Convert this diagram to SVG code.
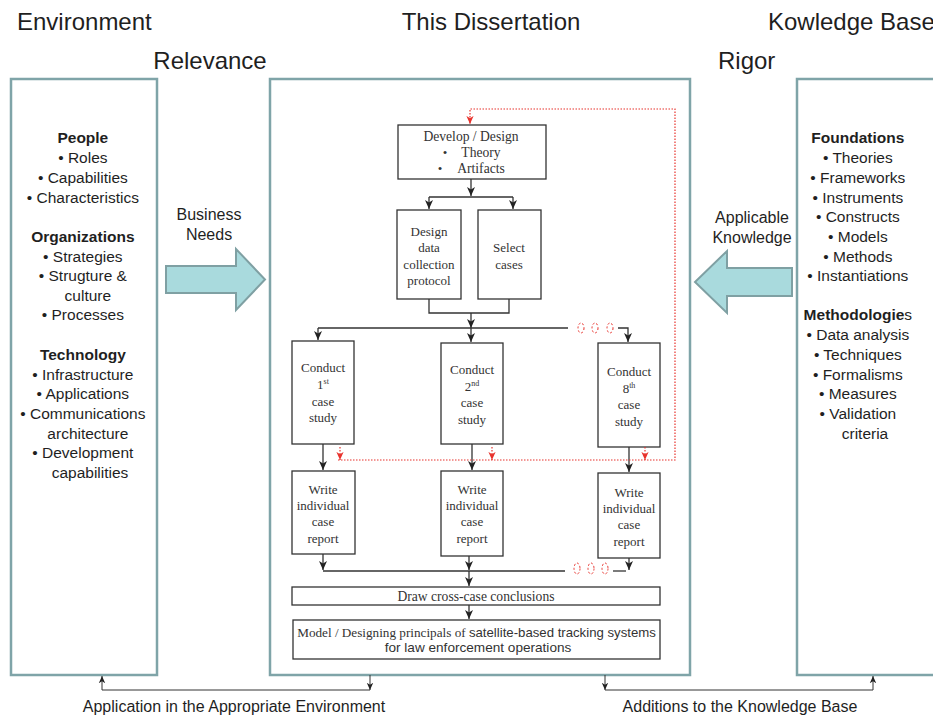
<svg xmlns="http://www.w3.org/2000/svg" width="933" height="717" viewBox="0 0 933 717">
  <style>
    .hdr { font-family: "Liberation Sans", Arial, sans-serif; font-size: 24px; fill: #1f1f1f; }
    .side { font-family: "Liberation Sans", Arial, sans-serif; font-size: 15.5px; fill: #1f1f1f; text-anchor: middle; }
    .side .b, .b { font-weight: bold; }
    .lbl { font-family: "Liberation Sans", Arial, sans-serif; font-size: 16px; fill: #1f1f1f; text-anchor: middle; }
    .foot { font-family: "Liberation Sans", Arial, sans-serif; font-size: 16px; fill: #1f1f1f; text-anchor: middle; }
    .panel { fill: #ffffff; stroke: #7fa4a8; stroke-width: 2.5; }
    .bigarrow { fill: #a9dadd; stroke: #7fa0a3; stroke-width: 2; }
    .box { fill: #ffffff; stroke: #333333; stroke-width: 1.3; }
    .t { font-family: "Liberation Serif", "Times New Roman", serif; font-size: 13px; fill: #333333; text-anchor: middle; }
    .m { font-size: 13.6px; }
    .mm { font-size: 13.2px; }
    .sup { font-size: 8px; }
    .a { font-family: "Liberation Sans", Arial, sans-serif; }
    .wire { fill: none; stroke: #333333; stroke-width: 1.3; }
    .thin { fill: none; stroke: #333333; stroke-width: 1; }
    .red { fill: none; stroke: #e8322c; stroke-width: 1.2; stroke-dasharray: 1.5 1.5; }
    .dots { fill: none; stroke: #e8322c; stroke-width: 1; stroke-dasharray: 2 2; }
  </style>
  <defs>
    <marker id="ah" markerUnits="userSpaceOnUse" markerWidth="10" markerHeight="10" viewBox="0 0 10 10" refX="9" refY="5" orient="auto">
      <path d="M0,1 L9,5 L0,9 L2.5,5 z" fill="#222222"/>
    </marker>
    <marker id="ahr" markerUnits="userSpaceOnUse" markerWidth="9" markerHeight="9" viewBox="0 0 10 10" refX="9" refY="5" orient="auto">
      <path d="M0,1 L9,5 L0,9 L2.5,5 z" fill="#e8322c"/>
    </marker>
    <marker id="ahs" markerUnits="userSpaceOnUse" markerWidth="8" markerHeight="8" viewBox="0 0 10 10" refX="9" refY="5" orient="auto">
      <path d="M0,1 L9,5 L0,9 L2.5,5 z" fill="#222222"/>
    </marker>
  </defs>

  <rect width="933" height="717" fill="#ffffff"/>

  <!-- column headings -->
  <g id="headings">
    <text class="hdr" x="17" y="30">Environment</text>
    <text class="hdr" x="491" y="30" text-anchor="middle">This Dissertation</text>
    <text class="hdr" x="768" y="30">Kowledge Base</text>
    <text class="hdr" x="210" y="69" text-anchor="middle">Relevance</text>
    <text class="hdr" x="718" y="69">Rigor</text>
  </g>

  <!-- environment panel -->
  <g id="environment">
    <rect class="panel" x="11" y="79" width="146" height="596"/>
    <text class="side">
      <tspan class="b" x="85" y="143">People</tspan>
      <tspan x="85" y="163">• Roles</tspan>
      <tspan x="85" y="183">• Capabilities</tspan>
      <tspan x="85" y="203">• Characteristics</tspan>
      <tspan class="b" x="85" y="242">Organizations</tspan>
      <tspan x="85" y="262">• Strategies</tspan>
      <tspan x="85" y="281">• Strugture &amp;</tspan>
      <tspan x="90" y="301">culture</tspan>
      <tspan x="85" y="320">• Processes</tspan>
      <tspan class="b" x="85" y="360">Technology</tspan>
      <tspan x="85" y="380">• Infrastructure</tspan>
      <tspan x="85" y="399">• Applications</tspan>
      <tspan x="85" y="419">• Communications</tspan>
      <tspan x="90" y="439">architecture</tspan>
      <tspan x="85" y="458">• Development</tspan>
      <tspan x="90" y="478">capabilities</tspan>
    </text>
  </g>

  <!-- knowledge base panel -->
  <g id="knowledge-base">
    <rect class="panel" x="797" y="79" width="150" height="596"/>
    <text class="side">
      <tspan class="b" x="860" y="143">Foundations</tspan>
      <tspan x="860" y="163">• Theories</tspan>
      <tspan x="860" y="183">• Frameworks</tspan>
      <tspan x="860" y="203">• Instruments</tspan>
      <tspan x="860" y="222">• Constructs</tspan>
      <tspan x="860" y="242">• Models</tspan>
      <tspan x="860" y="262">• Methods</tspan>
      <tspan x="860" y="281">• Instantiations</tspan>
      <tspan x="860" y="320"><tspan class="b">Methodologie</tspan>s</tspan>
      <tspan x="860" y="340">• Data analysis</tspan>
      <tspan x="860" y="360">• Techniques</tspan>
      <tspan x="860" y="380">• Formalisms</tspan>
      <tspan x="860" y="399">• Measures</tspan>
      <tspan x="860" y="419">• Validation</tspan>
      <tspan x="865" y="439">criteria</tspan>
    </text>
  </g>

  <!-- dissertation panel -->
  <g id="dissertation">
    <rect class="panel" x="270" y="79" width="420" height="596"/>
  </g>

  <!-- business needs flow -->
  <g id="business-needs">
    <path class="bigarrow" d="M166,266 L236,266 L236,249 L265,279.5 L236,310 L236,293 L166,293 z"/>
    <text class="lbl"><tspan x="209" y="220">Business</tspan><tspan x="209" y="240">Needs</tspan></text>
  </g>

  <!-- applicable knowledge flow -->
  <g id="applicable-knowledge">
    <path class="bigarrow" d="M792,268 L727,268 L727,251 L695,282 L727,313 L727,296 L792,296 z"/>
    <text class="lbl"><tspan x="752" y="223">Applicable</tspan><tspan x="752" y="243">Knowledge</tspan></text>
  </g>

  <!-- process steps -->
  <g id="develop-design">
    <rect class="box" x="398" y="125" width="148" height="54"/>
    <text class="t m" x="471" y="141">Develop / Design</text>
    <text class="t" x="445" y="157">•</text>
    <text class="t m" x="481" y="157">Theory</text>
    <text class="t" x="440" y="173">•</text>
    <text class="t m" x="481" y="173">Artifacts</text>
  </g>

  <g id="design-protocol">
    <rect class="box" x="397" y="210" width="64" height="89"/>
    <text class="t"><tspan x="429" y="236">Design</tspan><tspan x="429" y="252">data</tspan><tspan x="429" y="269">collection</tspan><tspan x="429" y="285">protocol</tspan></text>
  </g>

  <g id="select-cases">
    <rect class="box" x="478" y="210" width="63" height="89"/>
    <text class="t"><tspan x="509" y="252">Select</tspan><tspan x="509" y="269">cases</tspan></text>
  </g>

  <g id="conduct-1">
    <rect class="box" x="292" y="341" width="62" height="103"/>
    <text class="t"><tspan x="323" y="372">Conduct</tspan><tspan x="323" y="389">1<tspan class="sup" dy="-5">st</tspan></tspan><tspan x="323" y="406">case</tspan><tspan x="323" y="422">study</tspan></text>
  </g>

  <g id="conduct-2">
    <rect class="box" x="441" y="343" width="62" height="101"/>
    <text class="t"><tspan x="472" y="374">Conduct</tspan><tspan x="472" y="391">2<tspan class="sup" dy="-5">nd</tspan></tspan><tspan x="472" y="407">case</tspan><tspan x="472" y="424">study</tspan></text>
  </g>

  <g id="conduct-8">
    <rect class="box" x="598" y="343" width="62" height="104"/>
    <text class="t"><tspan x="629" y="376">Conduct</tspan><tspan x="629" y="393">8<tspan class="sup" dy="-5">th</tspan></tspan><tspan x="629" y="409">case</tspan><tspan x="629" y="426">study</tspan></text>
  </g>

  <g id="report-1">
    <rect class="box" x="292" y="471" width="63" height="83"/>
    <text class="t"><tspan x="323" y="494">Write</tspan><tspan x="323" y="510">individual</tspan><tspan x="323" y="526">case</tspan><tspan x="323" y="543">report</tspan></text>
  </g>

  <g id="report-2">
    <rect class="box" x="441" y="471" width="62" height="85"/>
    <text class="t"><tspan x="472" y="494">Write</tspan><tspan x="472" y="510">individual</tspan><tspan x="472" y="526">case</tspan><tspan x="472" y="543">report</tspan></text>
  </g>

  <g id="report-8">
    <rect class="box" x="598" y="473" width="62" height="85"/>
    <text class="t"><tspan x="629" y="497">Write</tspan><tspan x="629" y="513">individual</tspan><tspan x="629" y="529">case</tspan><tspan x="629" y="546">report</tspan></text>
  </g>

  <g id="cross-case">
    <rect class="box" x="292" y="587" width="368" height="18"/>
    <text class="t m" x="476" y="601">Draw cross-case conclusions</text>
  </g>

  <g id="model">
    <rect class="box" x="293" y="620" width="367" height="39"/>
    <text class="t mm" x="476.5" y="637">Model / Designing principals of <tspan class="a">satellite-based tracking systems</tspan></text>
    <text class="t a m" x="478" y="652">for law enforcement operations</text>
  </g>

  <!-- connectors -->
  <g id="connectors">
    <!-- develop to the two design steps -->
    <path class="wire" d="M471,179 L471,196" marker-end="url(#ah)"/>
    <path class="wire" d="M429,197 L513,197"/>
    <path class="wire" d="M429,197 L429,209" marker-end="url(#ah)"/>
    <path class="wire" d="M513,197 L513,209" marker-end="url(#ah)"/>
    <!-- join into the case studies -->
    <path class="wire" d="M429,299 L429,313 L509,313 L509,299"/>
    <path class="wire" d="M471,313 L471,328" marker-end="url(#ah)"/>
    <path class="wire" d="M318,328 L568,328"/>
    <path class="wire" d="M618,328 L628,328 L628,342" marker-end="url(#ah)"/>
    <path class="wire" d="M318,328 L318,340" marker-end="url(#ah)"/>
    <path class="wire" d="M471,328 L471,342" marker-end="url(#ah)"/>
    <ellipse class="dots" cx="581" cy="328" rx="3" ry="5"/>
    <ellipse class="dots" cx="595" cy="328" rx="3" ry="5"/>
    <ellipse class="dots" cx="610" cy="328" rx="3" ry="5"/>
    <!-- case study to report -->
    <path class="wire" d="M323,444 L323,470" marker-end="url(#ah)"/>
    <path class="wire" d="M472,444 L472,470" marker-end="url(#ah)"/>
    <path class="wire" d="M629,447 L629,472" marker-end="url(#ah)"/>
    <!-- reports into conclusions -->
    <path class="wire" d="M323,554 L323,570" marker-end="url(#ah)"/>
    <path class="wire" d="M469,556 L469,570" marker-end="url(#ah)"/>
    <path class="wire" d="M629,558 L629,570" marker-end="url(#ah)"/>
    <path class="wire" d="M323,571 L565,571"/>
    <path class="wire" d="M613,571 L626,571"/>
    <ellipse class="dots" cx="577" cy="568.5" rx="3" ry="5.5"/>
    <ellipse class="dots" cx="591" cy="568.5" rx="3" ry="5.5"/>
    <ellipse class="dots" cx="605" cy="568.5" rx="3" ry="5.5"/>
    <path class="wire" d="M469,571 L469,586" marker-end="url(#ah)"/>
    <path class="wire" d="M469,605 L469,619" marker-end="url(#ah)"/>
    <!-- iteration feedback -->
    <path class="red" d="M338,460 L675,460 L675,109 L470,109 L470,124" marker-end="url(#ahr)"/>
    <path class="red" d="M340,447 L340,460" marker-end="url(#ahr)"/>
    <path class="red" d="M492,447 L492,460" marker-end="url(#ahr)"/>
    <path class="red" d="M645,447 L645,460" marker-end="url(#ahr)"/>
    <!-- outputs to environment and knowledge base -->
    <path class="thin" d="M370,675 L370,690" marker-end="url(#ahs)"/>
    <path class="thin" d="M370,690 L102,690 L102,676" marker-end="url(#ahs)"/>
    <path class="thin" d="M605,675 L605,690" marker-end="url(#ahs)"/>
    <path class="thin" d="M605,690 L873,690 L873,676" marker-end="url(#ahs)"/>
  </g>

  <g id="output-labels">
    <text class="foot" x="234" y="712">Application in the Appropriate Environment</text>
    <text class="foot" x="740" y="712">Additions to the Knowledge Base</text>
  </g>
</svg>
